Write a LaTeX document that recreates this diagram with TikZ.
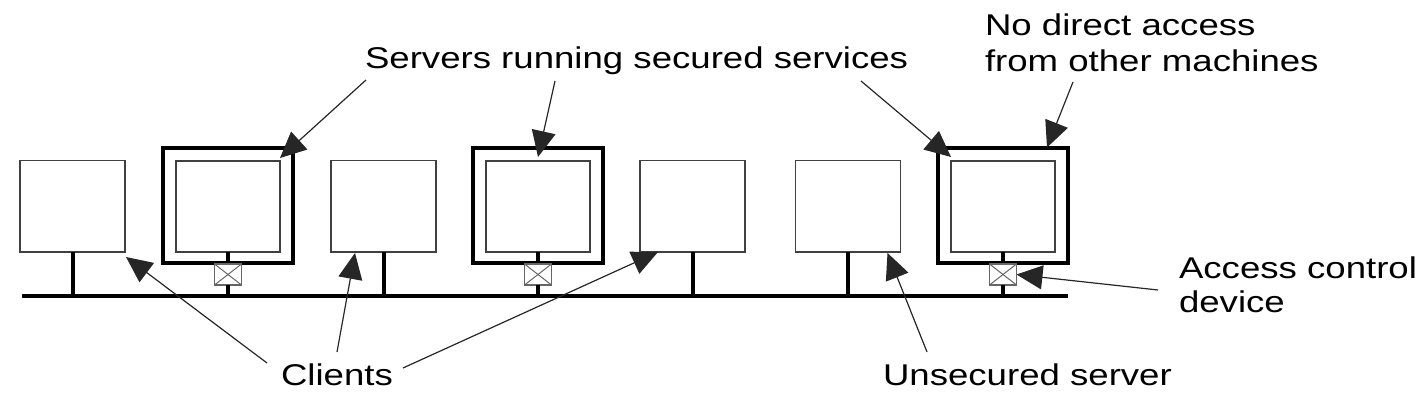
\documentclass[tikz,border=0pt]{standalone}
\usepackage{fontspec}
\setmainfont[FakeStretch=1.22]{Liberation Sans}
\usetikzlibrary{arrows.meta}
\begin{document}
\begin{tikzpicture}[x=1pt,y=-1pt,
  clientbox/.style={draw=black!75, line width=1.5pt, inner sep=0pt, outer sep=0pt, minimum width=105pt, minimum height=91.5pt},
  outerbox/.style={draw=black, line width=4pt, inner sep=0pt, outer sep=0pt, minimum width=130pt, minimum height=115pt},
  innerbox/.style={draw=black!75, line width=1.5pt, inner sep=0pt, outer sep=0pt, minimum width=104pt, minimum height=91pt},
  devbox/.style={draw=black!60, line width=1.3pt, inner sep=0pt, outer sep=0pt, minimum width=27pt, minimum height=21pt},
  xline/.style={draw=black!60, line width=1pt},
  stem/.style={line width=4pt, black},
  bus/.style={line width=4.5pt, black},
  arr/.style={line width=1.2pt, black!85, -{Triangle[length=26pt,width=24pt]}},
  txt/.style={inner sep=0pt, outer sep=0pt, anchor=base west, font=\fontsize{30}{36}\selectfont}
]
\useasboundingbox (0,0) rectangle (1422,419);

% bus
\coordinate (busL) at (22,296);
\coordinate (busR) at (1068,296);
\draw[bus] (busL) -- (busR);

% clients
\node[clientbox] (c1) at (72.5,206.25) {};
\node[clientbox] (c2) at (383.5,206.25) {};
\node[clientbox] (c3) at (692.5,206.25) {};
\node[clientbox] (c4) at (848,206.25) {};
\foreach \c in {c1,c2,c3,c4}
  \draw[stem] (\c.south) -- (\c.south |- busL);

% secured servers
\foreach \n/\x in {1/228,2/538,3/1003}{
  \node[outerbox] (s\n o) at (\x,206) {};
  \node[innerbox] (s\n i) at (\x,206.5) {};
  \node[devbox] (d\n) at (\x,274.5) {};
  \draw[xline] (d\n.north west) -- (d\n.south east);
  \draw[xline] (d\n.south west) -- (d\n.north east);
  \draw[stem] (s\n i.south) -- (s\n o.south);
  \draw[stem] (d\n.south) -- (d\n.south |- busL);
}

% labels
\node[txt] (tsrv) at (365,69) {Servers running secured services};
\node[txt] (tno1) at (985,36) {No direct access};
\node[txt] (tno2) at (985,72) {from other machines};
\node[txt] (tacc1) at (1179,279) {Access control};
\node[txt] (tacc2) at (1179,313) {device};
\node[txt] (tcli) at (281,386) {Clients};
\node[txt] (tuns) at (883,386) {Unsecured server};

% arrow start points
\coordinate (a1) at (366,80);
\coordinate (a2) at (555,81);
\coordinate (a3) at (861,81);
\coordinate (a4) at (1073,82);
\coordinate (a5) at (1158,290);
\coordinate (a6) at (267,363);
\coordinate (a7) at (337,352);
\coordinate (a8) at (403,368);
\coordinate (a9) at (927,352);

% arrows
\draw[arr] (a1) -- ([yshift=3pt]s1i.north east);
\draw[arr] (a2) -- ([yshift=4pt]s2i.north);
\draw[arr] (a3) -- ([yshift=4pt]s3i.north west);
\draw[arr] (a4) -- ([xshift=44pt,yshift=1pt]s3o.north);
\draw[arr] (a5) -- (d3.east);
\draw[arr] (a6) -- ([xshift=1pt,yshift=-5pt]c1.south east);
\draw[arr] (a7) -- ([xshift=24pt,yshift=-1pt]c2.south west);
\draw[arr] (a8) -- ([xshift=18pt]c3.south west);
\draw[arr] (a9) -- ([xshift=-13pt,yshift=-1pt]c4.south east);
\end{tikzpicture}
\end{document}
